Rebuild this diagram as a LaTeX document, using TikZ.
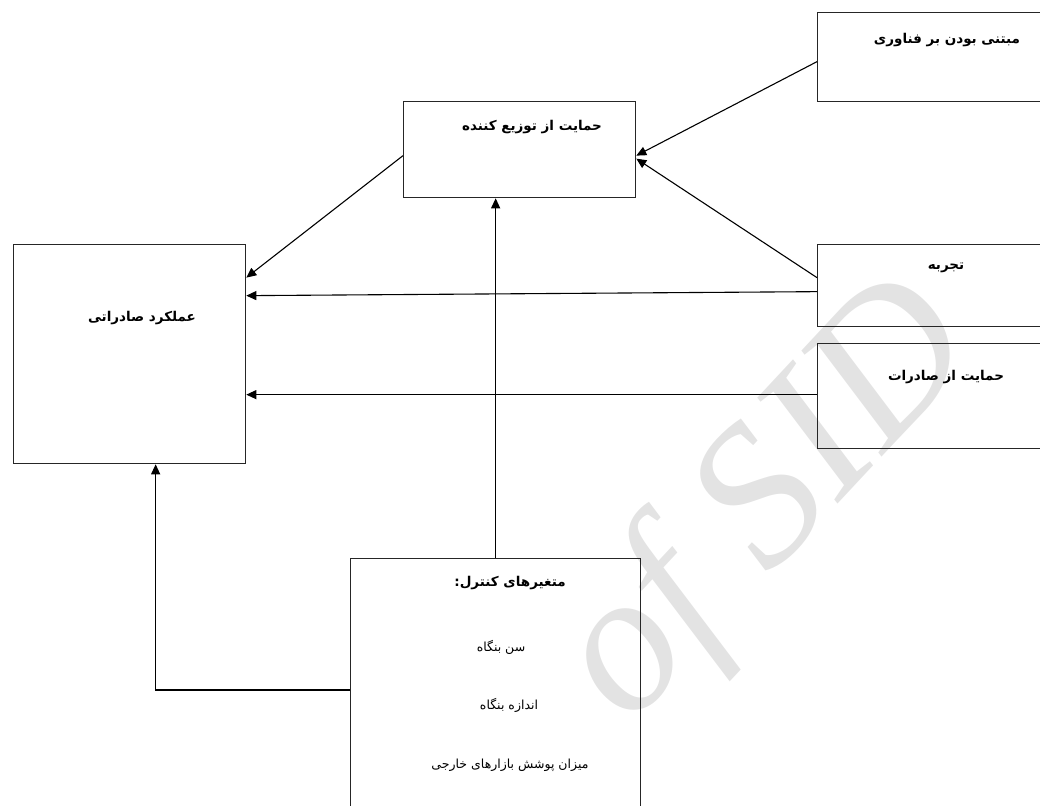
\documentclass[tikz,border=0pt]{standalone}
\usepackage{fontspec}
\newfontfamily\fa[Script=Arabic]{DejaVu Sans}
\newfontfamily\wmfont{Liberation Serif}
\TeXXeTstate=1
\usetikzlibrary{arrows.meta}
\begin{document}
\begin{tikzpicture}[x=1pt,y=-1pt,
  box/.style={draw=black!85, line width=1.3pt, inner sep=0pt, anchor=north west},
  ttl/.style={font=\fa\bfseries\fontsize{13.5}{16}\selectfont, inner sep=0pt},
  itm/.style={font=\fa\fontsize{12.5}{15}\selectfont, inner sep=0pt},
  link/.style={line width=1.1pt, -{Triangle[length=10pt,width=9pt]}}]
\useasboundingbox (0,0) rectangle (1040,805);
\clip (0,0) rectangle (1040,805);

% faint mark in the background
\node[text=gray!22, font=\wmfont\itshape\fontsize{200}{200}\selectfont, rotate=47] (wm) at (770,505) {of SID};

% boxes
\node[box, minimum width=240pt, minimum height=89pt]  (tech) at (817,12)  {};
\node[box, minimum width=232pt, minimum height=96pt]  (dist) at (403,101) {};
\node[box, minimum width=232pt, minimum height=219pt] (perf) at (13,244)  {};
\node[box, minimum width=240pt, minimum height=82pt]  (exp)  at (817,244) {};
\node[box, minimum width=240pt, minimum height=105pt] (supp) at (817,343) {};
\node[box, minimum width=290pt, minimum height=270pt] (ctrl) at (350,558) {};

% labels
\node[ttl] (techT) at (947,40)  {\beginR مبتنی بودن بر فناوری\endR};
\node[ttl] (distT) at (532,127) {\beginR حمایت از توزیع کننده\endR};
\node[ttl] (perfT) at (142,318) {\beginR عملکرد صادراتی\endR};
\node[ttl] (expT)  at (946,268) {\beginR تجربه\endR};
\node[ttl] (suppT) at (946,377) {\beginR حمایت از صادرات\endR};
\node[ttl] (ctrlT) at (510,583) {\beginR متغیرهای کنترل:\endR};
\node[itm] (ctrlA) at (501,647) {\beginR سن بنگاه\endR};
\node[itm] (ctrlB) at (509,705) {\beginR اندازه بنگاه\endR};
\node[itm] (ctrlC) at (510,765) {\beginR میزان پوشش بازارهای خارجی\endR};

% connectors
\draw[link] ([yshift=-4.5pt]tech.west) -- ([yshift=-6pt]dist.east);
\draw[link] ([yshift=8pt]exp.west) -- ([yshift=-9pt]dist.east);
\draw[link] ([yshift=-6pt]dist.west) -- ([yshift=76.5pt]perf.east);
\draw[link] ([yshift=-6pt]exp.west) -- ([yshift=58.5pt]perf.east);
\draw[link] ([yshift=1.5pt]supp.west) -- ([yshift=1.5pt]supp.west -| perf.east);
\draw[link] (ctrl.north) -- (ctrl.north |- dist.south);
\draw[link] ([yshift=-132pt]ctrl.north west) -| ([xshift=26pt]perf.south);
\end{tikzpicture}
\end{document}
